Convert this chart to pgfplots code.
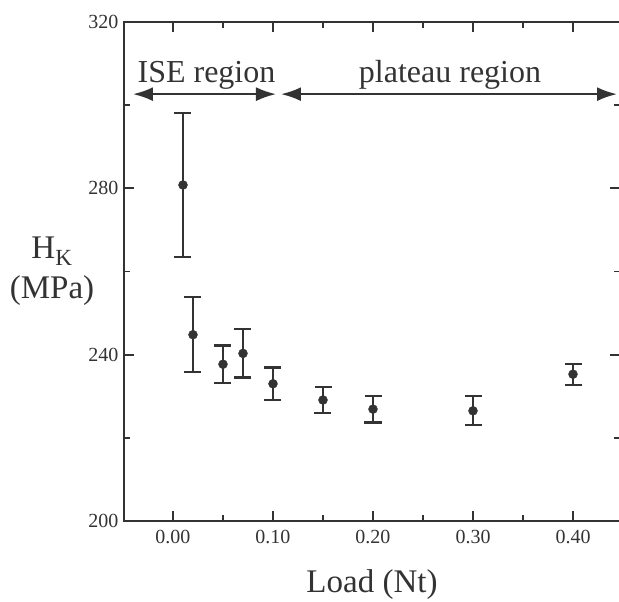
\documentclass[border=0pt]{standalone}
\usepackage{pgfplots}
\pgfplotsset{compat=1.18}
\usepackage{fontspec}
\setmainfont{Liberation Serif}
\usetikzlibrary{arrows.meta}
\definecolor{ink}{gray}{0.2}
\begin{document}
\begin{tikzpicture}
\begin{axis}[
  scale only axis,
  width=496pt, height=499pt,
  xmin=-0.049, xmax=0.447,
  ymin=200, ymax=320,
  xtick={0,0.1,0.2,0.3,0.4},
  minor xtick={0.05,0.15,0.25,0.35},
  ytick={200,240,280,320},
  minor ytick={220,260,300},
  xticklabels={0.00,0.10,0.20,0.30,0.40},
  /pgf/number format/assume math mode=true,
  ticklabel style={font=\fontsize{20}{24}\selectfont, text=ink},
  xticklabel shift=6pt,
  yticklabel shift=2pt,
  major tick length=10pt,
  minor tick length=6pt,
  tick style={line width=1.8pt, ink},
  axis line style={line width=2pt, ink},
  xlabel={Load (Nt)},
  xlabel style={at={(axis description cs:0.5,0)}, anchor=base, yshift=-72pt,
    font=\fontsize{33}{38}\selectfont, text=ink},
  clip=false,
]
\addplot[only marks, mark=*, mark size=4.5pt, ink, mark options={fill=ink, draw=ink},
  error bars/.cd, y dir=both, y explicit,
  error bar style={line width=2.2pt, ink},
  error mark options={rotate=90, mark size=8.5pt, line width=2.2pt, ink}]
  table[x=x, y=y, y error=e] {
x     y      e
0.01  280.8  17.4
0.02  244.8  9.0
0.05  237.7  4.5
0.07  240.3  5.8
0.10  233.0  3.9
0.15  229.1  3.1
0.20  226.9  3.2
0.30  226.5  3.5
0.40  235.3  2.5
};
\draw[{Latex[length=20pt,width=14pt]}-{Latex[length=20pt,width=14pt]}, line width=2.2pt, ink]
  (axis cs:-0.040,302.65) -- (axis cs:0.103,302.65);
\draw[{Latex[length=20pt,width=14pt]}-{Latex[length=20pt,width=14pt]}, line width=2.2pt, ink]
  (axis cs:0.108,302.65) -- (axis cs:0.444,302.65);
\node[anchor=base, font=\fontsize{32}{36}\selectfont, text=ink] at (axis cs:0.0335,305.5) {ISE region};
\node[anchor=base, font=\fontsize{32}{36}\selectfont, text=ink] at (axis cs:0.277,305.5) {plateau region};
\node[anchor=center, align=center, font=\fontsize{33}{40}\selectfont, text=ink]
  at ([xshift=-72pt]rel axis cs:0,0.5) {H\textsubscript{K}\\(MPa)};
\end{axis}
\pgfresetboundingbox
\useasboundingbox (-124pt,-81pt) rectangle (495pt,521pt);
\end{tikzpicture}
\end{document}
